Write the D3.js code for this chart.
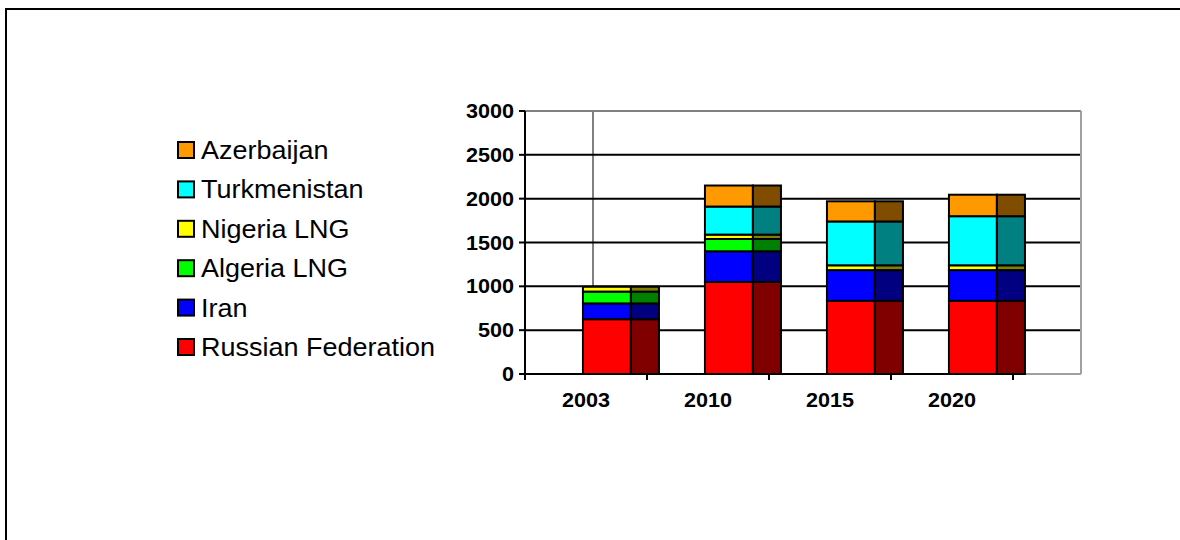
<!DOCTYPE html>
<html>
<head>
<meta charset="utf-8">
<script src="https://cdn.jsdelivr.net/npm/d3@7"></script>
<style>
  html, body { margin: 0; padding: 0; background: #fff; }
  svg { display: block; }
</style>
</head>
<body>
<svg id="chart" width="1180" height="540"></svg>
<script>
// ---- data ----
const categories = ["2003", "2010", "2015", "2020"];
const seriesNames = ["Russian Federation", "Iran", "Algeria LNG", "Nigeria LNG", "Turkmenistan", "Azerbaijan"];
const russia      = [625, 1050, 835, 835];
const iran        = [180, 350, 350, 350];
const algeria     = [135, 140, 0, 0];
const nigeria     = [55, 50, 55, 55];
const turkmenistan= [0, 320, 500, 560];
const azerbaijan  = [0, 240, 230, 245];
const yTicks = [0, 500, 1000, 1500, 2000, 2500, 3000];

const frontColors = ["#FF0000", "#0000FF", "#00FF00", "#FFFF00", "#00FFFF", "#FF9900"];
const sideColors  = ["#800000", "#000080", "#008000", "#808000", "#008080", "#804C00"];

const seriesValues = [russia, iran, algeria, nigeria, turkmenistan, azerbaijan];
const table = categories.map((c, i) => {
  const row = { cat: c };
  seriesNames.forEach((s, j) => row[s] = seriesValues[j][i]);
  return row;
});

const svg = d3.select("#chart");
const SX = 1.08; // horizontal text stretch

// outer frame
svg.append("rect").attr("x", 6).attr("y", 9).attr("width", 1200).attr("height", 600)
  .attr("fill", "none").attr("stroke", "#000").attr("stroke-width", 2);

const x = d3.scaleBand().domain(categories).range([525, 1013]).padding(0);
const y = d3.scaleLinear().domain([0, 3000]).range([374, 111]);

const left = 525, right = 1081;

// back wall (gray)
svg.append("line").attr("x1", left).attr("x2", right).attr("y1", y(3000)).attr("y2", y(3000))
  .attr("stroke", "#808080").attr("stroke-width", 2);
svg.append("line").attr("x1", right).attr("x2", right).attr("y1", y(3000)).attr("y2", y(0))
  .attr("stroke", "#A0A0A0").attr("stroke-width", 2);
svg.append("line").attr("x1", 593).attr("x2", 593).attr("y1", y(3000)).attr("y2", y(0))
  .attr("stroke", "#808080").attr("stroke-width", 2);
svg.append("line").attr("x1", 1013).attr("x2", right).attr("y1", y(0)).attr("y2", y(0))
  .attr("stroke", "#A0A0A0").attr("stroke-width", 2);

// gridlines
svg.append("g").selectAll("line").data(yTicks.filter(t => t > 0 && t < 3000)).join("line")
  .attr("x1", left).attr("x2", right - 1)
  .attr("y1", d => y(d)).attr("y2", d => y(d))
  .attr("stroke", "#000").attr("stroke-width", 2);

// stacked bars
const stack = d3.stack().keys(seriesNames)(table);
const bw = x.bandwidth();
const frontOff = bw * 0.475, frontW = bw * 0.393, sideW = bw * 0.23;

const layers = svg.append("g").selectAll("g").data(stack).join("g");
layers.each(function(layer, li) {
  const g = d3.select(this);
  g.selectAll("rect.front").data(layer.filter(d => d[1] - d[0] > 0)).join("rect")
    .attr("class", "front")
    .attr("x", d => x(d.data.cat) + frontOff)
    .attr("width", frontW)
    .attr("y", d => y(d[1]))
    .attr("height", d => y(d[0]) - y(d[1]))
    .attr("fill", frontColors[li]).attr("stroke", "#000").attr("stroke-width", 2);
  g.selectAll("rect.side").data(layer.filter(d => d[1] - d[0] > 0)).join("rect")
    .attr("class", "side")
    .attr("x", d => x(d.data.cat) + frontOff + frontW)
    .attr("width", sideW)
    .attr("y", d => y(d[1]))
    .attr("height", d => y(d[0]) - y(d[1]))
    .attr("fill", sideColors[li]).attr("stroke", "#000").attr("stroke-width", 2);
});

// y axis
svg.append("line").attr("x1", left).attr("x2", left).attr("y1", y(3000)).attr("y2", y(0))
  .attr("stroke", "#000").attr("stroke-width", 2);
svg.append("g").selectAll("line").data(yTicks).join("line")
  .attr("x1", left - 6).attr("x2", left).attr("y1", d => y(d)).attr("y2", d => y(d))
  .attr("stroke", "#000").attr("stroke-width", 2);
svg.append("g").selectAll("text").data(yTicks).join("text")
  .attr("transform", d => `translate(514,${y(d) + 7}) scale(${SX},1)`)
  .attr("text-anchor", "end")
  .attr("font-family", "Liberation Sans, Arial, sans-serif")
  .attr("font-weight", "bold").attr("font-size", 20)
  .text(d => d);

// x axis
svg.append("line").attr("x1", left).attr("x2", 1013).attr("y1", y(0)).attr("y2", y(0))
  .attr("stroke", "#000").attr("stroke-width", 2);
const xTickPos = categories.map(c => x(c)).concat([x(categories[categories.length - 1]) + bw]);
svg.append("g").selectAll("line").data(xTickPos).join("line")
  .attr("x1", d => d).attr("x2", d => d).attr("y1", y(0)).attr("y2", y(0) + 6)
  .attr("stroke", "#000").attr("stroke-width", 2);
svg.append("g").selectAll("text").data(categories).join("text")
  .attr("transform", d => `translate(${x(d) + bw / 2},407) scale(${SX},1)`)
  .attr("text-anchor", "middle")
  .attr("font-family", "Liberation Sans, Arial, sans-serif")
  .attr("font-weight", "bold").attr("font-size", 20)
  .text(d => d);

// legend
const legendOrder = seriesNames.map((s, i) => ({ name: s, color: frontColors[i] })).reverse();
const lg = svg.append("g").selectAll("g").data(legendOrder).join("g")
  .attr("transform", (d, i) => `translate(178,${150 + i * 39.4})`);
lg.append("rect").attr("x", 0).attr("y", -8).attr("width", 16).attr("height", 16)
  .attr("fill", d => d.color).attr("stroke", "#000").attr("stroke-width", 2);
lg.append("text")
  .attr("transform", `translate(23,9) scale(${SX},1)`)
  .attr("font-family", "Liberation Sans, Arial, sans-serif")
  .attr("font-size", 25)
  .text(d => d.name);
</script>
</body>
</html>
